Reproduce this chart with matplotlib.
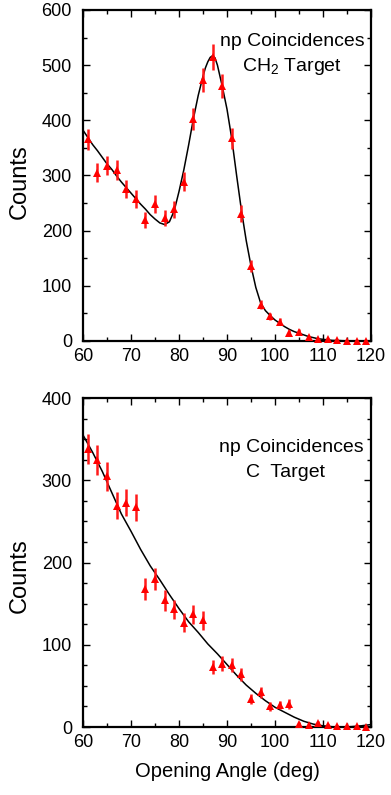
import matplotlib
matplotlib.use("Agg")
import matplotlib.pyplot as plt
from matplotlib.ticker import MultipleLocator

plt.rcParams['font.family'] = ['Liberation Sans', 'DejaVu Sans']
plt.rcParams['mathtext.fontset'] = 'custom'
plt.rcParams['mathtext.rm'] = 'Liberation Sans'
plt.rcParams['mathtext.it'] = 'Liberation Sans:italic'

# ---- data: CH2 target ----
ch2_angle = [61, 63, 65, 67, 69, 71, 73, 75, 77, 79, 81, 83, 85, 87, 89,
             91, 93, 95, 97, 99, 101, 103, 105, 107, 109, 111, 113, 115, 117, 119]
ch2_counts = [366, 305, 318, 310, 276, 257, 219, 248, 223, 239, 289, 402, 473, 515, 462,
              367, 231, 136, 66, 45, 35, 15, 17, 7, 4, 3, 1, 0, 0, 0]
ch2_err = [19, 17.5, 18, 17.5, 16.5, 16, 15, 16, 15, 15.5, 17, 20, 22, 23, 21.5,
           19, 15, 11.5, 8, 6.5, 6, 4, 4, 2.5, 2, 1.5, 1, 0, 0, 0]

ch2_fit_x = [60, 61, 62, 63, 64, 65, 66, 67, 68, 69, 70, 71, 72, 73, 74, 75, 76, 77, 78,
             79, 80, 81, 82, 83, 84, 85, 85.5, 86, 86.5, 87, 87.5, 88, 89, 90, 91, 92, 93,
             94, 95, 96, 97, 98, 99, 100, 101, 102, 103, 104, 105, 106, 107, 108, 109,
             110, 111, 112, 113, 114, 116, 118, 120]
ch2_fit_y = [382, 369, 356, 345, 333, 321, 311, 299, 288, 278, 268, 258, 248, 239, 229, 221,
             214, 211, 216, 236, 271, 310, 355, 403, 445, 480, 495, 506, 514, 517, 513, 500,
             462, 420, 366, 300, 237, 182, 136, 97, 69, 55, 46, 38, 32, 26, 21, 17, 14, 11,
             8, 6, 4, 3, 2, 1, 1, 0.5, 0, 0, 0]

# ---- data: C target ----
c_angle = ch2_angle
c_counts = [338, 325, 305, 269, 273, 267, 168, 180, 154, 143, 127, 137, 130, 73, 77,
            75, 64, 34, 42, 25, 27, 28, 4, 2, 5, 2, 1, 1, 1, 0]
c_err = [18, 18, 17.5, 16.5, 16.5, 16.5, 13, 13.5, 12.5, 12, 11.5, 11.5, 11.5, 8.5, 9,
         8.5, 8, 6, 6.5, 5, 5, 5.5, 2, 1.5, 2, 1.5, 1, 1, 1, 0]

c_fit_x = [60, 62, 64, 66, 68, 70, 72, 74, 76, 78, 80, 82, 84, 86, 88, 90, 92, 94, 96,
           98, 100, 102, 104, 106, 108, 110, 112, 114, 116, 118, 120]
c_fit_y = [355, 334, 311, 285, 259, 238, 216, 196, 179, 161, 144, 128, 115, 101, 89, 76,
           63, 51, 41, 32, 24, 18, 12, 7, 3.5, 1.5, 0.3, 0, 0.5, 1.5, 3]

xticks = [60, 70, 80, 90, 100, 110, 120]

fig = plt.figure(figsize=(3.91, 7.95), dpi=100)
ax1 = fig.add_axes([0.2123, 0.5711, 0.7366, 0.4164])
ax2 = fig.add_axes([0.2123, 0.0855, 0.7366, 0.4138])


def style(ax, ymax, ymajor, yminor):
    ax.set_xlim(60, 120)
    ax.set_ylim(0, ymax)
    ax.set_xticks(xticks)
    ax.xaxis.set_minor_locator(MultipleLocator(5))
    ax.yaxis.set_major_locator(MultipleLocator(ymajor))
    ax.yaxis.set_minor_locator(MultipleLocator(yminor))
    ax.tick_params(which='both', direction='in', top=True, right=True,
                   labelsize=13, width=1.0, color='black')
    ax.tick_params(which='major', length=5, pad=6)
    ax.tick_params(which='minor', length=3)
    ax.tick_params(axis='y', which='major', pad=8)
    ax.tick_params(axis='x', which='major', pad=5)
    for s in ax.spines.values():
        s.set_linewidth(1.6)
    ax.set_ylabel('Counts', fontsize=17)


for ax, xs, ys, es, fx, fy in [(ax1, ch2_angle, ch2_counts, ch2_err, ch2_fit_x, ch2_fit_y),
                               (ax2, c_angle, c_counts, c_err, c_fit_x, c_fit_y)]:
    ax.plot(fx, fy, color='black', lw=1.1, zorder=2, clip_on=True)
    ax.errorbar(xs, ys, yerr=es, fmt='^', color='#ff0000', ecolor='#ff1a1a',
                elinewidth=1.8, capsize=0, markersize=5.5, markeredgewidth=0,
                zorder=3, clip_on=False)

style(ax1, 600, 100, 50)
style(ax2, 400, 100, 25)

ax1.yaxis.set_label_coords(-0.18, 0.48)
ax2.yaxis.set_label_coords(-0.18, 0.46)

ax1.text(0.726, 0.906, 'np Coincidences', transform=ax1.transAxes,
         ha='center', va='center', fontsize=14)
ax1.text(0.724, 0.828, 'CH$_\\mathrm{2}$ Target', transform=ax1.transAxes,
         ha='center', va='center', fontsize=14)
ax2.text(0.724, 0.849, 'np Coincidences', transform=ax2.transAxes,
         ha='center', va='center', fontsize=14)
ax2.text(0.703, 0.773, 'C  Target', transform=ax2.transAxes,
         ha='center', va='center', fontsize=14)

ax2.set_xlabel('Opening Angle (deg)', fontsize=14.5, labelpad=8)

fig.savefig('out.png', dpi=100)
